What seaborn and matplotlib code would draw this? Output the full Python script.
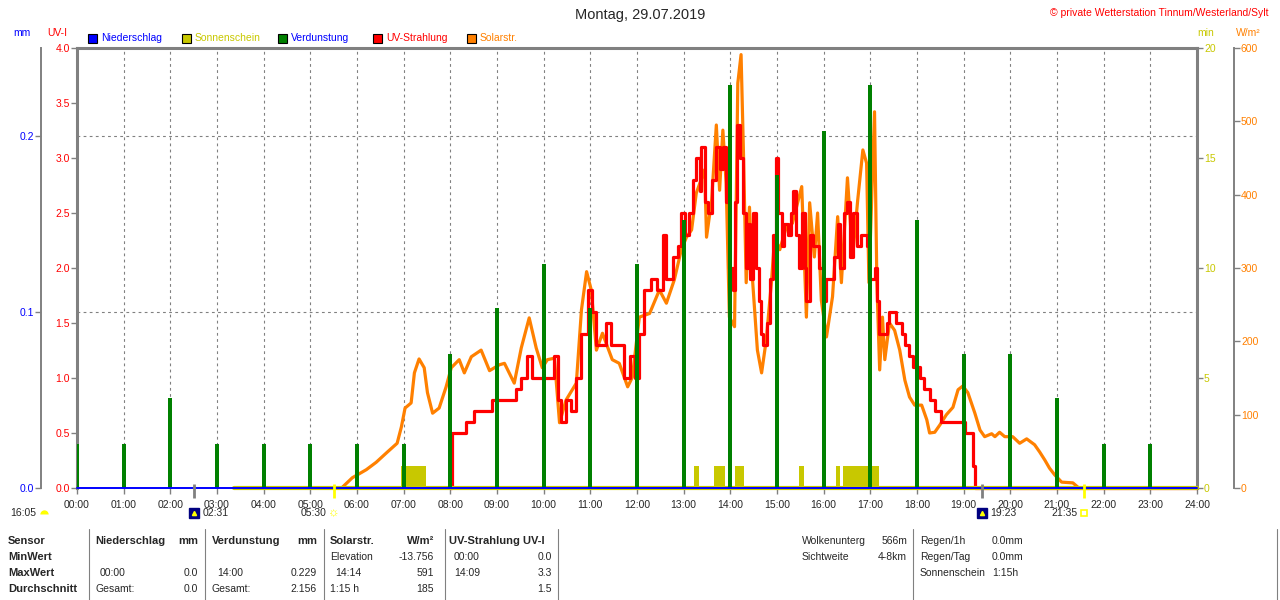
import matplotlib
matplotlib.use("Agg")
import matplotlib.pyplot as plt
from matplotlib.patches import Rectangle
from matplotlib.lines import Line2D
from matplotlib.ticker import FormatStrFormatter
import seaborn as sns

# ---------------- Daten ----------------
stunden = list(range(25))
stunden_lab = [f"{h:02d}:00" for h in stunden]

# Verdunstung je Stunde (mm)
verd_t = list(range(24))
verd_v = [0.025, 0.025, 0.051, 0.025, 0.025, 0.025, 0.025, 0.025, 0.076, 0.102,
          0.127, 0.102, 0.127, 0.152, 0.229, 0.178, 0.203, 0.229, 0.152, 0.076,
          0.076, 0.051, 0.025, 0.025]

# Niederschlag (mm)
regen_t = [0.0, 24.0]
regen_v = [0.0, 0.0]

# Sonnenschein (min)
sonne_start = [6.95, 13.23, 13.64, 14.11, 15.48, 16.26, 16.41]
sonne_ende = [7.48, 13.32, 13.88, 14.30, 15.57, 16.34, 17.18]
sonne_v = [1.0, 1.0, 1.0, 1.0, 1.0, 1.0, 1.0]
sonne_linie_t = [3.37, 24.0]
sonne_linie_v = [0.0, 0.0]

# Solarstrahlung (W/m²)
solar_t = [5.00, 5.67, 5.90, 6.20, 6.41, 6.65, 6.86, 6.95, 7.03, 7.16, 7.23, 7.33,
           7.44, 7.51, 7.62, 7.76, 7.91, 8.02, 8.19, 8.30, 8.45, 8.66, 8.84, 9.05,
           9.16, 9.37, 9.52, 9.69, 9.84, 9.97, 10.08, 10.23, 10.34, 10.48, 10.70,
           10.81, 10.92, 11.02, 11.13, 11.26, 11.47, 11.62, 11.80, 11.90, 12.05,
           12.27, 12.48, 12.63, 12.80, 12.95, 13.06, 13.17, 13.27, 13.45, 13.49,
           13.60, 13.70, 13.77, 13.84, 13.91, 13.98, 14.09, 14.16, 14.23, 14.28,
           14.34, 14.41, 14.48, 14.58, 14.67, 14.77, 14.88, 14.95, 15.06, 15.20,
           15.33, 15.53, 15.63, 15.70, 15.80, 15.87, 15.95, 16.06, 16.19, 16.30,
           16.38, 16.51, 16.62, 16.73, 16.84, 16.92, 16.97, 17.09, 17.14, 17.20,
           17.26, 17.31, 17.41, 17.52, 17.63, 17.74, 17.84, 17.95, 18.10, 18.21,
           18.27, 18.38, 18.49, 18.63, 18.77, 18.88, 18.98, 19.09, 19.24, 19.35,
           19.45, 19.60, 19.67, 19.77, 19.88, 20.05, 20.20, 20.35, 20.52, 20.63,
           20.74, 20.84, 20.95, 21.10, 21.34, 21.45, 21.50, 24.00]
solar_v = [0, 0, 14, 25, 35, 49, 61, 83, 109, 116, 157, 176,
           164, 130, 102, 109, 138, 164, 175, 157, 179, 188, 160, 168,
           170, 143, 191, 232, 191, 164, 175, 177, 89, 120, 143,
           243, 295, 270, 188, 211, 175, 170, 138, 151, 233,
           238, 270, 252, 284, 325, 342, 352, 402, 434, 342,
           393, 495, 406, 488, 416, 233, 220, 552, 591, 461,
           280, 383, 280, 188, 157, 202, 280, 342, 325, 356,
           361, 411, 233, 389, 315, 375, 256, 206, 261, 370,
           280, 423, 315, 393, 461, 443, 280, 513, 280, 161,
           233, 175, 225, 215, 188, 147, 124, 113, 113, 93,
           75, 76, 86, 100, 110, 134, 139, 130, 102, 79,
           70, 74, 70, 76, 70, 70, 61, 67, 59, 49,
           38, 27, 18, 8, 7, 1, 0, 0]

# UV-Strahlung (UV-I)
uv_t = [8.00, 8.04, 8.34, 8.51, 8.90, 9.41, 9.52, 9.65, 9.76, 10.23, 10.30, 10.38,
        10.48, 10.59, 10.70, 10.81, 10.94, 11.04, 11.13, 11.34, 11.45, 11.73, 11.84,
        11.95, 12.05, 12.16, 12.31, 12.42, 12.55, 12.63, 12.77, 12.87, 12.95, 13.02,
        13.12, 13.20, 13.27, 13.34, 13.38, 13.45, 13.52, 13.60, 13.70, 13.77, 13.84,
        13.91, 13.98, 14.05, 14.11, 14.14, 14.20, 14.27, 14.33, 14.38, 14.43, 14.48,
        14.54, 14.61, 14.66, 14.71, 14.78, 14.86, 14.91, 14.97, 15.02, 15.10, 15.16,
        15.23, 15.30, 15.34, 15.41, 15.48, 15.54, 15.59, 15.63, 15.70, 15.77, 15.91,
        15.98, 16.06, 16.23, 16.30, 16.36, 16.43, 16.49, 16.56, 16.62, 16.71, 16.79,
        16.92, 16.98, 17.09, 17.14, 17.18, 17.35, 17.41, 17.56, 17.67, 17.74, 17.82,
        17.91, 18.06, 18.16, 18.27, 18.38, 18.52, 19.02, 19.20, 19.24, 24.00]
uv_v = [0.0, 0.5, 0.6, 0.7, 0.8, 0.9, 1.0, 1.2, 1.0, 1.2, 0.8, 0.6,
        0.8, 0.7, 1.0, 1.4, 1.8, 1.6, 1.3, 1.5, 1.3, 1.0, 1.2,
        1.0, 1.4, 1.8, 1.9, 1.8, 2.3, 1.9, 2.1, 2.2, 2.5, 2.3,
        2.5, 2.8, 3.0, 2.7, 3.1, 2.6, 2.5, 2.8, 3.1, 2.9, 3.1,
        2.6, 2.0, 1.8, 2.6, 3.3, 3.0, 2.5, 2.0, 2.4, 1.9, 2.5,
        2.0, 1.7, 1.4, 1.3, 1.5, 1.9, 2.3, 3.0, 2.5, 2.2, 2.4,
        2.3, 2.5, 2.7, 2.3, 2.0, 2.5, 2.0, 1.7, 2.3, 2.2, 2.0,
        1.7, 1.9, 2.1, 2.4, 2.0, 2.5, 2.6, 2.1, 2.5, 2.2, 2.3,
        2.2, 1.9, 2.0, 1.7, 1.4, 1.5, 1.6, 1.5, 1.4, 1.3, 1.2,
        1.1, 1.0, 0.9, 0.8, 0.7, 0.6, 0.5, 0.2, 0.0, 0.0]

# Mond- und Sonnenereignisse
ereignis_t = [2.517, 5.5, 19.383, 21.583]
ereignis_lab = ["02:31", "05:30", "19:23", "21:35"]
ereignis_art = ["mond_auf", "sonne_auf", "mond_unter", "sonne_unter"]
tageslaenge = "16:05"

legende_namen = ["Niederschlag", "Sonnenschein", "Verdunstung", "UV-Strahlung", "Solarstr."]

# Tabelle
tab_kopf = ["Sensor", "MinWert", "MaxWert", "Durchschnitt"]
tab_regen = ["", "00:00", "Gesamt:"], ["", "0.0", "0.0"]
tab_verd = ["", "14:00", "Gesamt:"], ["", "0.229", "2.156"]
tab_solar = ["Elevation", "14:14", "1:15 h"], ["-13.756", "591", "185"]
tab_uv = ["00:00", "14:09", ""], ["0.0", "3.3", "1.5"]
info_links = ["Wolkenunterg", "Sichtweite"], ["566m", "4-8km"]
info_rechts = ["Regen/1h", "Regen/Tag", "Sonnenschein"], ["0.0mm", "0.0mm", "1:15h"]

# ---------------- Stil ----------------
BLAU = "#0000FF"
OLIV = "#C8C800"
GRUEN = "#008000"
ROT = "#FF0000"
ORANGE = "#FF8000"
GRAU = "#808080"
GELB = "#FFFF00"

sns.set_style("white")
plt.rcParams["font.family"] = ["Liberation Sans", "DejaVu Sans"]

fig = plt.figure(figsize=(12.8, 6.0), dpi=100)
fig.patch.set_facecolor("white")

W, H = 1280, 600
rect = [77 / W, 1 - 488 / H, 1120 / W, 440 / H]


def fx(x):
    return x / W


def fy(y):
    return 1 - y / H


# Grundachse: mm + Raster
ax_mm = fig.add_axes(rect)
ax_mm.set_zorder(0)
ax_mm.set_xlim(0, 24)
ax_mm.set_ylim(0, 0.25)
ax_mm.set_xticks(stunden)
ax_mm.set_xticklabels(stunden_lab)
ax_mm.set_yticks([0.0, 0.1, 0.2])
ax_mm.yaxis.set_major_formatter(FormatStrFormatter("%.1f"))
ax_mm.grid(True, color=GRAU, linestyle=(0, (2.5, 3)), linewidth=0.8)
ax_mm.tick_params(axis="x", direction="out", length=4, color=GRAU, width=1,
                  labelsize=7.5, pad=5, bottom=True)
ax_mm.tick_params(axis="y", direction="out", length=4, color=GRAU, width=1,
                  labelsize=7.5, labelcolor=BLAU, pad=1, left=True)
for s in ["top", "right", "bottom"]:
    ax_mm.spines[s].set_visible(False)
ax_mm.spines["left"].set_position(("axes", -36 / 1120))
ax_mm.spines["left"].set_color(GRAU)
ax_mm.spines["left"].set_linewidth(1.4)

# Solarstrahlung
ax_w = ax_mm.twinx()
ax_w.set_zorder(1)
sns.lineplot(x=solar_t, y=solar_v, ax=ax_w, color=ORANGE, linewidth=2.3,
             estimator=None, sort=False, clip_on=False)
ax_w.set_ylim(0, 600)
ax_w.set_yticks(range(0, 601, 100))
ax_w.tick_params(axis="y", direction="out", length=4, color=GRAU, width=1,
                 labelsize=7.5, labelcolor=ORANGE, pad=1, right=True)
for s in ["top", "left", "bottom"]:
    ax_w.spines[s].set_visible(False)
ax_w.spines["right"].set_position(("axes", 1 + 37 / 1120))
ax_w.spines["right"].set_color(GRAU)
ax_w.spines["right"].set_linewidth(1.4)
ax_w.set_ylabel("")

# UV-Strahlung + Rahmen
ax_uv = fig.add_axes(rect, sharex=ax_mm)
ax_uv.set_zorder(2)
ax_uv.patch.set_visible(False)
sns.lineplot(x=uv_t, y=uv_v, ax=ax_uv, color=ROT, linewidth=2.3,
             drawstyle="steps-post", estimator=None, sort=False, clip_on=False)
ax_uv.set_ylim(0, 4)
ax_uv.set_yticks([0, 0.5, 1, 1.5, 2, 2.5, 3, 3.5, 4])
ax_uv.yaxis.set_major_formatter(FormatStrFormatter("%.1f"))
ax_uv.tick_params(axis="y", direction="out", length=4, color=GRAU, width=1,
                  labelsize=7.5, labelcolor=ROT, pad=1, left=True)
ax_uv.xaxis.set_visible(False)
for s in ["left", "top", "right"]:
    ax_uv.spines[s].set_color(GRAU)
    ax_uv.spines[s].set_linewidth(2.2)
ax_uv.spines["bottom"].set_visible(False)
ax_uv.set_ylabel("")

# Sonnenschein
ax_sun = ax_mm.twinx()
ax_sun.set_zorder(3)
breiten = [e - s for s, e in zip(sonne_start, sonne_ende)]
ax_sun.bar(sonne_start, sonne_v, width=breiten, align="edge", color=OLIV, linewidth=0)
ax_sun.plot(sonne_linie_t, sonne_linie_v, color=OLIV, linewidth=3.0, clip_on=False)
ax_sun.set_ylim(0, 20)
ax_sun.set_yticks(range(0, 21, 5))
ax_sun.tick_params(axis="y", direction="out", length=4, color=GRAU, width=1,
                   labelsize=7.5, labelcolor=OLIV, pad=1, right=True)
for s in ax_sun.spines.values():
    s.set_visible(False)

# Verdunstung + Niederschlag
ax_ev = fig.add_axes(rect, sharex=ax_mm, sharey=ax_mm)
ax_ev.set_zorder(4)
ax_ev.patch.set_visible(False)
ax_ev.bar(verd_t, verd_v, width=0.09, color=GRUEN, linewidth=0)
ax_ev.plot(regen_t, regen_v, color=BLAU, linewidth=1.4, clip_on=False)
ax_ev.axis("off")

# Ereignisse unter der Zeitachse
xtr = ax_ev.get_xaxis_transform()
for t, lab, art in zip(ereignis_t, ereignis_lab, ereignis_art):
    farbe = GRAU if art.startswith("mond") else GELB
    ax_ev.plot([t, t], [-0.022, 0.01], color=farbe, linewidth=2,
               transform=xtr, clip_on=False, solid_capstyle="butt")
    yy = -0.057
    if art.startswith("mond"):
        ax_ev.plot([t], [yy], marker="s", markersize=7, color="#000080",
                   transform=xtr, clip_on=False)
        ax_ev.plot([t], [yy], marker="^", markersize=3, color=GELB,
                   transform=xtr, clip_on=False)
        ax_ev.annotate(lab, xy=(t, yy), xycoords=xtr, xytext=(6, 0),
                       textcoords="offset points", ha="left", va="center",
                       fontsize=7.5, annotation_clip=False)
    else:
        if art == "sonne_auf":
            ax_ev.annotate("☼", xy=(t, yy), xycoords=xtr, ha="center",
                           va="center", fontsize=9, color=GELB,
                           annotation_clip=False)
        else:
            ax_ev.plot([t], [yy], marker="s", markersize=4, markerfacecolor="white",
                       markeredgecolor=GELB, markeredgewidth=1.2,
                       transform=xtr, clip_on=False)
        ax_ev.annotate(lab, xy=(t, yy), xycoords=xtr, xytext=(-5, 0),
                       textcoords="offset points", ha="right", va="center",
                       fontsize=7.5, annotation_clip=False)

fig.text(fx(10), fy(513), tageslaenge, ha="left", va="center", fontsize=7.5)
fig.add_artist(Line2D([fx(44)], [fy(514)], marker="o", markersize=6,
                      fillstyle="top", color=GELB, markeredgewidth=0,
                      transform=fig.transFigure))

# Titel und Einheiten
fig.text(0.5, fy(15), "Montag, 29.07.2019", ha="center", va="center", fontsize=10.5)
fig.text(fx(1268), fy(13), "© private Wetterstation Tinnum/Westerland/Sylt",
         ha="right", va="center", fontsize=7.5, color=ROT)
fig.text(fx(22), fy(33), "mm", ha="center", va="center", fontsize=7.5, color=BLAU)
fig.text(fx(57), fy(33), "UV-I", ha="center", va="center", fontsize=7.5, color=ROT)
fig.text(fx(1206), fy(33), "min", ha="center", va="center", fontsize=7.5, color=OLIV)
fig.text(fx(1248), fy(33), "W/m²", ha="center", va="center", fontsize=7.5, color=ORANGE)

# Legende
leg_fuell = [BLAU, OLIV, GRUEN, ROT, ORANGE]
leg_text = [BLAU, OLIV, BLAU, ROT, ORANGE]
leg_x = [88, 182, 278, 373, 467]
for name, fc, tc, x in zip(legende_namen, leg_fuell, leg_text, leg_x):
    fig.add_artist(Rectangle((fx(x), fy(43)), 9 / W, 9 / H, transform=fig.transFigure,
                             facecolor=fc, edgecolor="black", linewidth=0.8))
    fig.text(fx(x + 13), fy(38), name, ha="left", va="center", fontsize=7.5, color=tc)

# Tabelle unten
zeilen_y = [541, 557, 573, 589]
for y, k in zip(zeilen_y, tab_kopf):
    fig.text(fx(8), fy(y), k, ha="left", va="center", fontsize=8, fontweight="bold")

kopf = [(95, "Niederschlag", "left"), (198, "mm", "right"), (212, "Verdunstung", "left"),
        (317, "mm", "right"), (330, "Solarstr.", "left"), (434, "W/m²", "right"),
        (449, "UV-Strahlung UV-I", "left")]
for x, s, ha in kopf:
    fig.text(fx(x), fy(zeilen_y[0]), s, ha=ha, va="center", fontsize=8, fontweight="bold")

spalten = [(tab_regen, 95, 198), (tab_verd, 212, 317), (tab_solar, 330, 434), (tab_uv, 449, 552)]
for (links, rechts), xl, xr in spalten:
    for y, a, b in zip(zeilen_y[1:], links, rechts):
        if a:
            dx = 5 if ":" in a and "Gesamt" not in a and " h" not in a else 0
            fig.text(fx(xl + dx), fy(y), a, ha="left", va="center", fontsize=7.5)
        if b:
            fig.text(fx(xr), fy(y), b, ha="right", va="center", fontsize=7.5)

for y, a, b in zip(zeilen_y, *info_links):
    fig.text(fx(802), fy(y), a, ha="left", va="center", fontsize=7.5)
    fig.text(fx(907), fy(y), b, ha="right", va="center", fontsize=7.5)
for y, a, b in zip(zeilen_y, *info_rechts):
    fig.text(fx(920), fy(y), a, ha="left", va="center", fontsize=7.5)
    fig.text(fx(992), fy(y), b, ha="left", va="center", fontsize=7.5)

for x in [89, 205, 324, 445, 558, 913, 1277]:
    fig.add_artist(Line2D([fx(x), fx(x)], [fy(529), fy(600)], color=GRAU,
                          linewidth=0.8, transform=fig.transFigure))

fig.savefig("out.png", dpi=100, facecolor="white")
